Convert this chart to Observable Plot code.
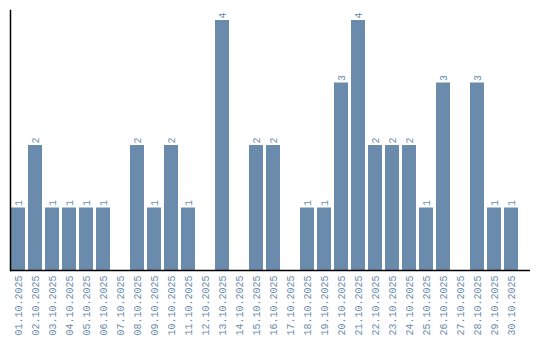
<!DOCTYPE html>
<html><head><meta charset="utf-8">
<script src="https://cdn.jsdelivr.net/npm/d3@7"></script>
<script src="https://cdn.jsdelivr.net/npm/@observablehq/plot@0.6"></script>
<style>body{margin:0;background:#fff}</style>
</head><body><div id="chart"></div>
<script>
const dates = ["01.10.2025","02.10.2025","03.10.2025","04.10.2025","05.10.2025","06.10.2025","07.10.2025","08.10.2025","09.10.2025","10.10.2025","11.10.2025","12.10.2025","13.10.2025","14.10.2025","15.10.2025","16.10.2025","17.10.2025","18.10.2025","19.10.2025","20.10.2025","21.10.2025","22.10.2025","23.10.2025","24.10.2025","25.10.2025","26.10.2025","27.10.2025","28.10.2025","29.10.2025","30.10.2025"];
const counts = [1,2,1,1,1,1,0,2,1,2,1,0,4,0,2,2,0,1,1,3,4,2,2,2,1,3,0,3,1,1];
const data = dates.map((d,i)=>({date:d, count:counts[i]}));
const nonzero = data.filter(d=>d.count>0);
const barColor = "#6a8bab";
const font = "Liberation Mono";
const chart = Plot.plot({
  width: 540, height: 340,
  marginLeft: 10, marginRight: 10, marginTop: 10, marginBottom: 70,
  style: {fontFamily: font, fontSize: "10px", background: "#fff"},
  x: {domain: dates, range: [10, 520], paddingInner: 0.176, paddingOuter: 0, label: null, tickRotate: -90, tickSize: 0, tickPadding: 5},
  y: {domain: [0, 4.16], axis: null},
  marks: [
    Plot.barY(data, {x: "date", y: "count", fill: barColor}),
    Plot.text(nonzero, {x: "date", y: "count", text: d => String(d.count), rotate: -90, textAnchor: "start", dy: -2, fill: barColor, fontFamily: font, fontSize: 10}),
    Plot.axisX({tickRotate: -90, tickSize: 0, tickPadding: 5, fill: barColor, fontFamily: font, fontSize: 10, label: null}),
    Plot.ruleY([0], {stroke: "#000", strokeWidth: 1.5}),
    Plot.frame({anchor: "left", stroke: "#000", strokeWidth: 1.5})
  ]
});
document.getElementById("chart").appendChild(chart);
</script></body></html>
